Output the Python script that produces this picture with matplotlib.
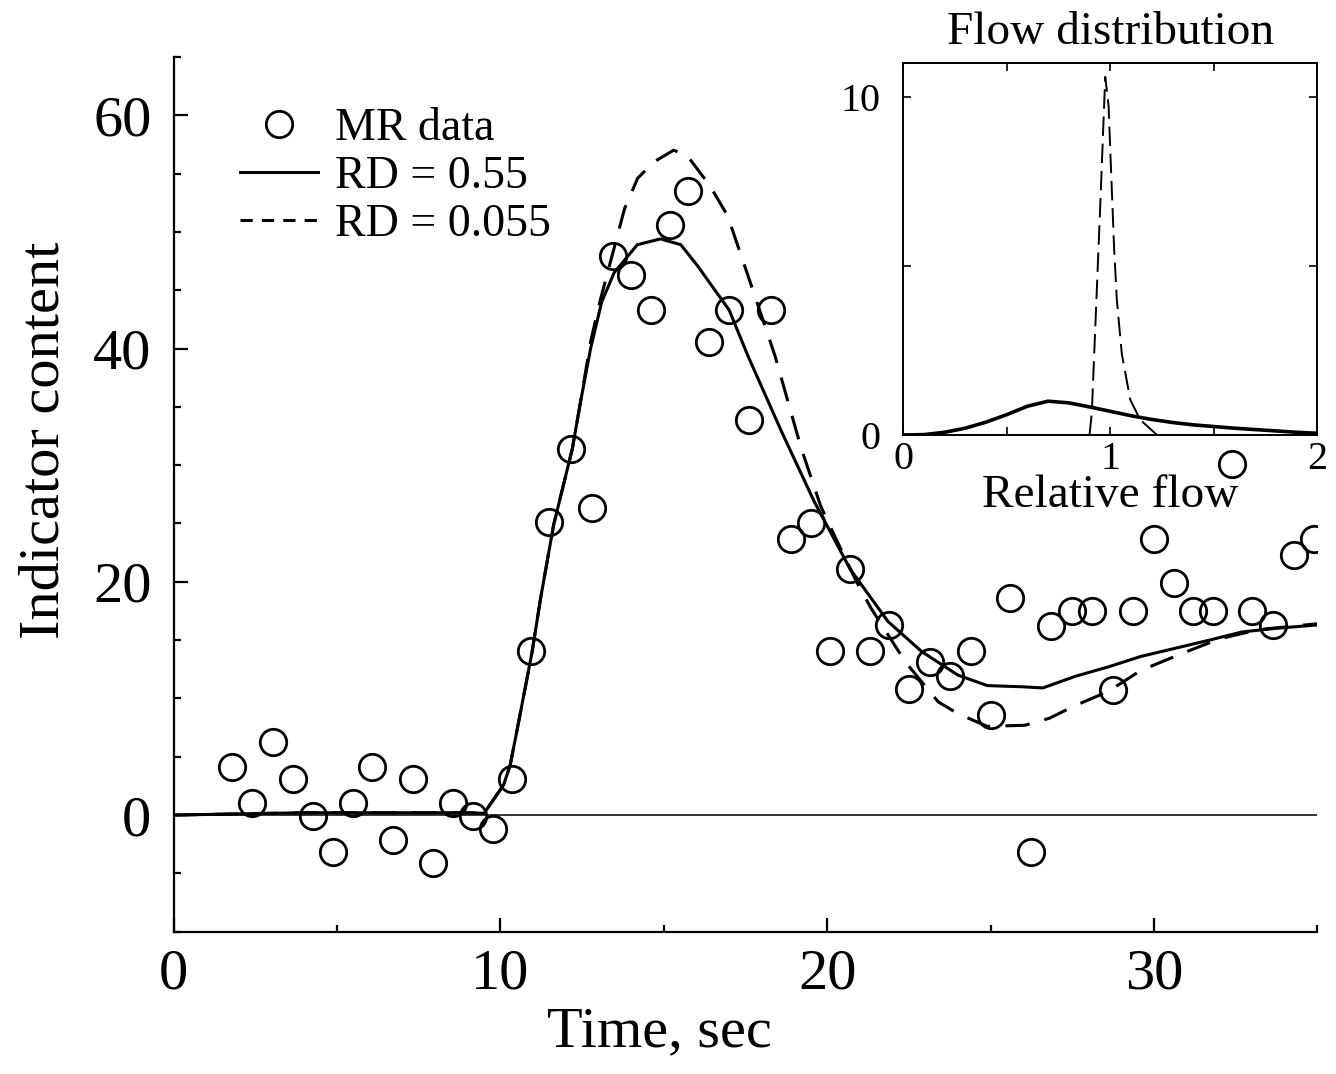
import matplotlib
matplotlib.use("Agg")
import matplotlib.pyplot as plt
from matplotlib.ticker import MultipleLocator

plt.rcParams['font.family'] = ['Liberation Serif', 'DejaVu Serif']

# MR data (time in sec, indicator content)
mr_time = [1.80, 2.41, 3.03, 3.64, 4.25, 4.89, 5.48, 6.07, 6.70, 7.31,
           7.95, 8.55, 9.16, 9.76, 10.36, 10.94, 11.50, 12.15, 12.80, 13.46,
           13.99, 14.60, 15.19, 15.75, 16.39, 17.00, 17.62, 18.28, 18.90, 19.50,
           20.10, 20.70, 21.30, 21.90, 22.50, 23.15, 23.75, 24.40, 25.00, 25.60,
           26.25, 26.85, 27.50, 28.10, 28.75, 29.35, 30.00, 30.60, 31.20, 31.80,
           32.40, 33.00, 33.65, 34.30, 34.90]
mr_value = [4.1, 1.0, 6.3, 3.1, -0.1, -3.2, 1.0, 4.1, -2.1, 3.1,
            -4.1, 1.0, -0.1, -1.2, 3.1, 14.1, 25.1, 31.4, 26.3, 47.9,
            46.3, 43.3, 50.6, 53.5, 40.6, 43.3, 33.9, 43.3, 23.7, 25.0,
            14.1, 21.1, 14.1, 16.3, 10.8, 13.1, 11.9, 14.1, 8.6, 18.6,
            -3.2, 16.2, 17.5, 17.5, 10.7, 17.5, 23.7, 19.9, 17.5, 17.5,
            30.1, 17.5, 16.3, 22.3, 23.7]

# model curve RD = 0.55
rd1_time = [0, 2, 4, 6, 8, 9.0, 9.5, 10.1, 10.3, 10.6, 10.97, 11.23, 11.63,
            12.2, 12.45, 12.76, 13.1, 13.48, 14.19, 14.9, 15.52, 16.03, 16.54,
            17.0, 17.57, 18.6, 19.6, 20.7, 21.86, 22.9, 24.0, 24.9, 25.95,
            26.6, 27.6, 28.6, 29.6, 30.65, 31.7, 32.7, 33.7, 35.0]
rd1_value = [0, 0.1, 0.2, 0.2, 0.2, 0.2, 0.15, 2.6, 4.3, 8.6, 14.0, 18.6, 24.9,
             31.4, 35.4, 40.0, 44.0, 46.5, 48.9, 49.4, 48.9, 47.1, 45.1,
             43.3, 39.4, 32.9, 26.9, 21.1, 16.6, 14.0, 12.0, 11.1, 11.0,
             10.9, 11.9, 12.7, 13.6, 14.3, 15.0, 15.7, 16.0, 16.3]

# model curve RD = 0.055
rd2_time = [0, 2, 4, 6, 8, 9.0, 9.5, 10.1, 10.3, 10.6, 10.97, 11.23, 11.63,
            12.2, 12.45, 12.76, 13.07, 13.8, 14.2, 14.7, 15.3, 15.7, 16.4,
            16.95, 17.57, 18.4, 19.2, 19.8, 20.3, 20.9, 21.35, 22.4, 23.4,
            24.0, 24.9, 26.05, 26.8, 27.6, 28.6, 29.6, 30.9, 32.0, 33.2, 35.0]
rd2_value = [0, 0.1, 0.2, 0.2, 0.2, 0.2, 0.15, 2.6, 4.3, 8.6, 14.0, 18.6, 24.9,
             31.4, 35.4, 40.6, 44.3, 52.0, 54.6, 56.0, 57.0, 56.6, 54.0,
             51.4, 46.3, 39.4, 31.5, 26.5, 23.5, 20.0, 17.7, 13.1, 9.7,
             8.7, 7.6, 7.7, 8.3, 9.4, 10.6, 12.4, 13.9, 15.1, 15.9, 16.4]

# inset: flow distributions
flow_x1 = [0, 0.1, 0.2, 0.3, 0.4, 0.5, 0.6, 0.7, 0.8, 0.9, 1.0, 1.1, 1.2,
           1.3, 1.4, 1.5, 1.6, 1.7, 1.8, 1.9, 2.0]
flow_y1 = [0, 0.01, 0.08, 0.2, 0.38, 0.6, 0.85, 1.0, 0.95, 0.83, 0.7, 0.57,
           0.46, 0.37, 0.3, 0.25, 0.2, 0.16, 0.12, 0.08, 0.05]
flow_x2 = [0.9, 0.911, 0.93, 0.95, 0.976, 0.992, 1.003, 1.019, 1.032, 1.056,
           1.097, 1.145, 1.226]
flow_y2 = [0, 0.64, 3.5, 6.5, 10.6, 9.75, 8.0, 5.5, 4.0, 2.4, 1.04, 0.45, 0.0]

fig = plt.figure(figsize=(13.36, 10.74), dpi=100)
ax = fig.add_axes([0.130, 0.1325, 0.856, 0.8145])

ax.axhline(0, color='black', lw=1.1, zorder=1)
ax.plot(mr_time, mr_value, 'o', ms=19, mfc='none', mec='black', mew=2.0,
        label='MR data', zorder=3)
ax.plot(rd1_time, rd1_value, '-', color='black', lw=2.2, label='RD = 0.55')
ax.plot(rd2_time, rd2_value, color='black', lw=2.2, ls=(0, (8, 5)),
        label='RD = 0.055')

ax.set_xlim(0, 35)
ax.set_ylim(-10, 65)
ax.xaxis.set_major_locator(MultipleLocator(10))
ax.xaxis.set_minor_locator(MultipleLocator(5))
ax.yaxis.set_major_locator(MultipleLocator(20))
ax.yaxis.set_minor_locator(MultipleLocator(5))
ax.spines['top'].set_visible(False)
ax.spines['right'].set_visible(False)
for s in ('left', 'bottom'):
    ax.spines[s].set_linewidth(1.6)
ax.tick_params(which='both', direction='in', width=1.6, labelsize=42)
ax.tick_params(which='major', length=10)
ax.tick_params(which='minor', length=5)
ax.tick_params(axis='x', pad=12)
ax.tick_params(axis='y', pad=16)

ax.set_xlabel('Time, sec', fontsize=42)
ax.set_ylabel('Indicator content', fontsize=42)
ax.xaxis.set_label_coords(0.425, -0.085)
ax.yaxis.set_label_coords(-0.09, 0.562)

leg = ax.legend(loc='upper left', bbox_to_anchor=(0.058, 0.942), frameon=False,
                fontsize=33, handlelength=1.7, handletextpad=0.37,
                labelspacing=0.12, borderpad=0, borderaxespad=0)
leg.get_lines()[2].set_dashes((4, 3))

# inset
ins = fig.add_axes([0.676, 0.595, 0.310, 0.346])
ins.plot(flow_x1, flow_y1, '-', color='black', lw=2.6)
ins.plot(flow_x2, flow_y2, color='black', lw=1.4, ls=(0, (10, 4)))
ins.set_xlim(0, 2)
ins.set_ylim(0, 11)
ins.set_xticks([0, 0.5, 1, 1.5, 2])
ins.set_xticklabels(['0', '', '1', '', '2'])
ins.set_yticks([0, 5, 10])
ins.set_yticklabels(['0', '', '10'])
for s in ins.spines.values():
    s.set_linewidth(1.4)
ins.tick_params(direction='in', top=True, right=True, length=6, width=1.2,
                labelsize=29)
ins.tick_params(axis='x', pad=4)
ins.tick_params(axis='y', pad=16)
ins.set_title('Flow distribution', fontsize=34, pad=14)
ins.set_xlabel('Relative flow', fontsize=34, labelpad=-2)

fig.savefig('out.png', dpi=100)
